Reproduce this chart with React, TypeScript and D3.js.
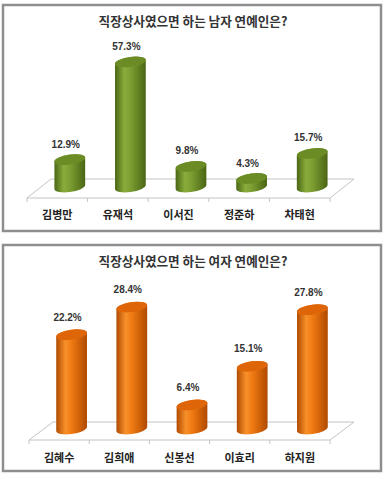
import React from "react";
import * as d3 from "d3";

const maleTitle = "직장상사였으면 하는 남자 연예인은?";
const maleNames = ["김병만", "유재석", "이서진", "정준하", "차태현"];
const maleValues = [12.9, 57.3, 9.8, 4.3, 15.7];

const femaleTitle = "직장상사였으면 하는 여자 연예인은?";
const femaleNames = ["김혜수", "김희애", "신봉선", "이효리", "하지원"];
const femaleValues = [22.2, 28.4, 6.4, 15.1, 27.8];

type Cfg = {
  id: string;
  yOff: number;
  title: string;
  names: string[];
  values: number[];
  front: number;
  back: number;
  bandRange: [number, number];
  depthDx: number;
  baseY: number;
  zeroY: number;
  pxPer: number;
  labelY: number;
  valueGap: number;
  colors: { edge: string; mid: string; light: string; top: string; topRim: string };
};

const RX = 15.5;
const RY = 5;
const TH = -8;

function ellPt(cx: number, cy: number, t: number) {
  const th = (TH * Math.PI) / 180;
  return [
    cx + RX * Math.cos(t) * Math.cos(th) - RY * Math.sin(t) * Math.sin(th),
    cy + RX * Math.cos(t) * Math.sin(th) + RY * Math.sin(t) * Math.cos(th),
  ];
}

function Panel({ c }: { c: Cfg }) {
  const x = d3.scaleBand<string>().domain(c.names).range(c.bandRange).padding(0);
  const y = d3
    .scaleLinear()
    .domain([0, 10])
    .range([c.zeroY, c.zeroY - c.pxPer * 10]);
  const th = (TH * Math.PI) / 180;
  const t0 = Math.atan2(-RY * Math.sin(th), RX * Math.cos(th));
  const [x0, x1] = c.bandRange;
  const floor = [
    [x0, c.front],
    [x0 + c.depthDx, c.back],
    [x1 + c.depthDx, c.back],
    [x1, c.front],
  ];
  const ticks = [x0, ...c.names.map((n) => (x(n) as number) + x.bandwidth())];
  return (
    <g transform={`translate(0,${c.yOff})`}>
      <defs>
        <linearGradient id={`body-${c.id}`} x1="0" x2="1" y1="0" y2="0">
          <stop offset="0%" stopColor={c.colors.edge} />
          <stop offset="30%" stopColor={c.colors.light} />
          <stop offset="50%" stopColor={c.colors.mid} />
          <stop offset="100%" stopColor={c.colors.edge} />
        </linearGradient>
        <radialGradient id={`top-${c.id}`} cx="0.5" cy="0.5" r="0.6">
          <stop offset="0%" stopColor={c.colors.top} />
          <stop offset="80%" stopColor={c.colors.top} />
          <stop offset="100%" stopColor={c.colors.topRim} />
        </radialGradient>
      </defs>
      <rect x={3} y={5} width={378} height={226} fill="#fff" stroke="#8e8e8e" strokeWidth={2.5} />
      <text
        x={193}
        y={26}
        textAnchor="middle"
        fontFamily="'Noto Sans CJK KR'"
        fontWeight={700}
        fontSize={12.6}
        fill="#333"
      >
        {c.title}
      </text>
      <polygon
        points={floor.map((p) => p.join(",")).join(" ")}
        fill="#fff"
        stroke="#c4c4c4"
        strokeWidth={1}
      />
      {ticks.map((t, i) => (
        <line key={i} x1={t} x2={t} y1={c.front} y2={c.front + 4} stroke="#c4c4c4" strokeWidth={1} />
      ))}
      {c.names.map((n, i) => {
        const cx = (x(n) as number) + x.bandwidth() / 2 + 12.5;
        const yt = y(c.values[i]);
        const yb = c.baseY;
        const r = ellPt(cx, yt, t0);
        const l = ellPt(cx, yt, t0 + Math.PI);
        const rb = ellPt(cx, yb, t0);
        const lb = ellPt(cx, yb, t0 + Math.PI);
        const body = `M${l[0]},${l[1]} L${lb[0]},${lb[1]} A${RX},${RY} ${TH} 0 0 ${rb[0]},${rb[1]} L${r[0]},${r[1]} A${RX},${RY} ${TH} 0 0 ${l[0]},${l[1]} Z`;
        return (
          <g key={n}>
            <path d={body} fill={`url(#body-${c.id})`} />
            <ellipse
              cx={cx}
              cy={yt}
              rx={RX}
              ry={RY}
              transform={`rotate(${TH},${cx},${yt})`}
              fill={`url(#top-${c.id})`}
            />
            <text
              x={cx - 4}
              y={yt - c.valueGap}
              textAnchor="middle"
              fontFamily="'Liberation Sans', Arial, sans-serif"
              fontWeight={700}
              fontSize={10}
              fill="#333"
            >
              {c.values[i].toFixed(1) + "%"}
            </text>
          </g>
        );
      })}
      {c.names.map((n) => (
        <text
          key={n}
          x={(x(n) as number) + x.bandwidth() / 2}
          y={c.labelY}
          textAnchor="middle"
          fontFamily="'Noto Sans CJK KR'"
          fontWeight={700}
          fontSize={11}
          fill="#222"
        >
          {n}
        </text>
      ))}
    </g>
  );
}

const green = { edge: "#4a6614", mid: "#7d9e32", light: "#8aac3c", top: "#6b8c24", topRim: "#86a63a" };
const orange = { edge: "#b04a00", mid: "#f07a12", light: "#f8902a", top: "#df6608", topRim: "#f48a22" };

export default function App() {
  const top: Cfg = {
    id: "m",
    yOff: 0,
    title: maleTitle,
    names: maleNames,
    values: maleValues,
    front: 198,
    back: 179,
    bandRange: [27, 330],
    depthDx: 24,
    baseY: 187,
    zeroY: 188,
    pxPer: 2.2,
    labelY: 219,
    valueGap: 12,
    colors: green,
  };
  const bottom: Cfg = {
    id: "f",
    yOff: 240,
    title: femaleTitle,
    names: femaleNames,
    values: femaleValues,
    front: 200,
    back: 182,
    bandRange: [29, 330],
    depthDx: 24,
    baseY: 189,
    zeroY: 193.5,
    pxPer: 4.45,
    labelY: 222,
    valueGap: 14,
    colors: orange,
  };
  return (
    <svg width={387} height={480} style={{ position: "absolute", left: 0, top: 0, background: "#fff" }}>
      <Panel c={top} />
      <Panel c={bottom} />
    </svg>
  );
}
